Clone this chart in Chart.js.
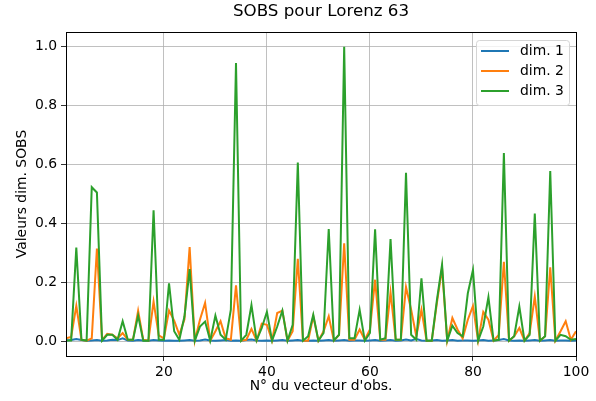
<!DOCTYPE html>
<html lang="fr">
<head>
<meta charset="UTF-8">
<title>SOBS pour Lorenz 63</title>
<script src="https://cdn.jsdelivr.net/npm/chart.js@4"></script>
<style>
  body { margin: 0; background: #fff; }
  #wrap { width: 596px; height: 401px; }
</style>
</head>
<body>
<div id="wrap"><canvas id="sobs" width="596" height="401"></canvas></div>
<script>
// index of the observation vector (1..100)
const obsIndex = Array.from({length: 100}, (_, i) => i + 1);

const dim1 = [
  0.003, 0.004, 0.008, 0.004, 0.002, 0.003, 0.004, 0.002, 0.003, 0.005,
  0.004, 0.010, 0.003, 0.002, 0.004, 0.003, 0.002, 0.004, 0.003, 0.002,
  0.003, 0.002, 0.002, 0.003, 0.004, 0.002, 0.003, 0.006, 0.003, 0.002,
  0.003, 0.004, 0.002, 0.003, 0.002, 0.004, 0.006, 0.003, 0.002, 0.003,
  0.002, 0.003, 0.004, 0.002, 0.003, 0.004, 0.002, 0.002, 0.003, 0.002,
  0.003, 0.004, 0.002, 0.003, 0.004, 0.002, 0.003, 0.003, 0.002, 0.003,
  0.004, 0.002, 0.003, 0.004, 0.002, 0.003, 0.006, 0.003, 0.008, 0.003,
  0.002, 0.003, 0.004, 0.002, 0.003, 0.004, 0.002, 0.003, 0.003, 0.002,
  0.003, 0.004, 0.002, 0.003, 0.004, 0.008, 0.003, 0.002, 0.003, 0.002,
  0.003, 0.004, 0.002, 0.003, 0.004, 0.002, 0.003, 0.003, 0.002, 0.003
];
const dim2 = [
  0.010, 0.015, 0.120, 0.005, 0.002, 0.010, 0.315, 0.005, 0.025, 0.022,
  0.010, 0.028, 0.005, 0.005, 0.104, 0.005, 0.002, 0.135, 0.020, 0.010,
  0.104, 0.070, 0.022, 0.075, 0.320, 0.002, 0.073, 0.130, 0.002, 0.034,
  0.068, 0.010, 0.005, 0.190, 0.002, 0.005, 0.042, 0.002, 0.060, 0.056,
  0.002, 0.096, 0.104, 0.002, 0.034, 0.280, 0.002, 0.002, 0.085, 0.002,
  0.034, 0.085, 0.002, 0.022, 0.333, 0.005, 0.005, 0.040, 0.005, 0.040,
  0.209, 0.005, 0.005, 0.166, 0.005, 0.005, 0.184, 0.107, 0.017, 0.107,
  0.002, 0.002, 0.130, 0.248, 0.002, 0.079, 0.040, 0.010, 0.073, 0.120,
  0.002, 0.100, 0.073, 0.002, 0.022, 0.270, 0.002, 0.017, 0.045, 0.002,
  0.028, 0.152, 0.002, 0.017, 0.251, 0.002, 0.034, 0.068, 0.005, 0.034
];
const dim3 = [
  0.003, 0.003, 0.318, 0.005, 0.002, 0.523, 0.505, 0.002, 0.022, 0.022,
  0.005, 0.068, 0.005, 0.005, 0.087, 0.002, 0.002, 0.445, 0.005, 0.005,
  0.197, 0.034, 0.005, 0.085, 0.245, 0.002, 0.050, 0.067, 0.002, 0.087,
  0.022, 0.005, 0.107, 0.945, 0.002, 0.022, 0.123, 0.003, 0.045, 0.100,
  0.002, 0.050, 0.104, 0.002, 0.056, 0.607, 0.002, 0.017, 0.090, 0.002,
  0.028, 0.381, 0.003, 0.022, 1.000, 0.010, 0.010, 0.107, 0.002, 0.028,
  0.380, 0.005, 0.010, 0.347, 0.005, 0.005, 0.572, 0.022, 0.005, 0.214,
  0.002, 0.002, 0.140, 0.260, 0.002, 0.053, 0.028, 0.017, 0.163, 0.242,
  0.002, 0.050, 0.150, 0.002, 0.005, 0.639, 0.002, 0.017, 0.118, 0.002,
  0.022, 0.434, 0.002, 0.017, 0.578, 0.002, 0.022, 0.017, 0.005, 0.008
];

const seriesNames = ['dim. 1', 'dim. 2', 'dim. 3'];
const seriesColors = ['#1f77b4', '#ff7f0e', '#2ca02c'];
const xTicks = [20, 40, 60, 80, 100];
const yTicks = [0.0, 0.2, 0.4, 0.6, 0.8, 1.0];

const FONT = 'DejaVu Sans, sans-serif';

// title, axis labels, box spines and legend drawn the matplotlib way
const decor = {
  id: 'decor',
  afterDatasetsDraw(chart) {
    const {ctx, chartArea: a} = chart;
    ctx.save();
    ctx.strokeStyle = '#000';
    ctx.lineWidth = 1;
    ctx.strokeRect(Math.round(a.left) + 0.5, Math.round(a.top) + 0.5,
                   Math.round(a.right - a.left), Math.round(a.bottom - a.top));

    ctx.fillStyle = '#000';
    ctx.textAlign = 'center';
    ctx.textBaseline = 'middle';
    ctx.font = '16.7px ' + FONT;
    ctx.fillText('SOBS pour Lorenz 63', (a.left + a.right) / 2, 12);
    ctx.font = '13.9px ' + FONT;
    ctx.fillText("N° du vecteur d'obs.", (a.left + a.right) / 2, 386);
    ctx.translate(22, (a.top + a.bottom) / 2);
    ctx.rotate(-Math.PI / 2);
    ctx.fillText('Valeurs dim. SOBS', 0, 0);
    ctx.restore();

    // legend box
    ctx.save();
    const bx = 476, by = 40, bw = 93, bh = 65;
    ctx.beginPath();
    ctx.roundRect(bx + 0.5, by + 0.5, bw, bh, 3);
    ctx.fillStyle = 'rgba(255,255,255,0.8)';
    ctx.fill();
    ctx.strokeStyle = '#d5d5d5';
    ctx.lineWidth = 1;
    ctx.stroke();
    ctx.font = '13.9px ' + FONT;
    ctx.textAlign = 'left';
    ctx.textBaseline = 'middle';
    seriesNames.forEach((name, i) => {
      const y = 51 + i * 20;
      ctx.strokeStyle = seriesColors[i];
      ctx.lineWidth = 2;
      ctx.beginPath();
      ctx.moveTo(481, y);
      ctx.lineTo(509, y);
      ctx.stroke();
      ctx.fillStyle = '#000';
      ctx.fillText(name, 520, y);
    });
    ctx.restore();
  }
};

const datasets = [dim1, dim2, dim3].map((vals, k) => ({
  label: seriesNames[k],
  data: obsIndex.map((x, i) => ({x: x, y: vals[i]})),
  borderColor: seriesColors[k],
  backgroundColor: seriesColors[k],
  borderWidth: 2,
  pointRadius: 0,
  tension: 0,
  fill: false,
  order: 3 - k   // later series on top, as in the original plot
}));

new Chart(document.getElementById('sobs'), {
  type: 'line',
  data: { datasets: datasets },
  options: {
    responsive: false,
    animation: false,
    layout: { padding: { top: 32, right: 20, left: 0, bottom: 0 } },
    plugins: {
      legend: { display: false },
      title: { display: false },
      tooltip: { enabled: false }
    },
    scales: {
      x: {
        type: 'linear',
        min: 1,
        max: 100,
        afterBuildTicks: s => { s.ticks = xTicks.map(v => ({value: v})); },
        afterFit: s => { s.height = 45; },
        grid: { color: '#b0b0b0', lineWidth: 0.8, tickColor: '#000', tickLength: 5 },
        border: { display: false },
        ticks: {
          color: '#000', padding: 3, maxRotation: 0,
          font: { family: FONT, size: 13.9 },
          callback: v => String(v)
        }
      },
      y: {
        min: -0.05,
        max: 1.05,
        afterBuildTicks: s => { s.ticks = yTicks.map(v => ({value: v})); },
        afterFit: s => { s.width = 66; },
        grid: { color: '#b0b0b0', lineWidth: 0.8, tickColor: '#000', tickLength: 5 },
        border: { display: false },
        ticks: {
          color: '#000', padding: 4,
          font: { family: FONT, size: 13.9 },
          callback: v => v.toFixed(1)
        }
      }
    }
  },
  plugins: [decor]
});
</script>
</body>
</html>
